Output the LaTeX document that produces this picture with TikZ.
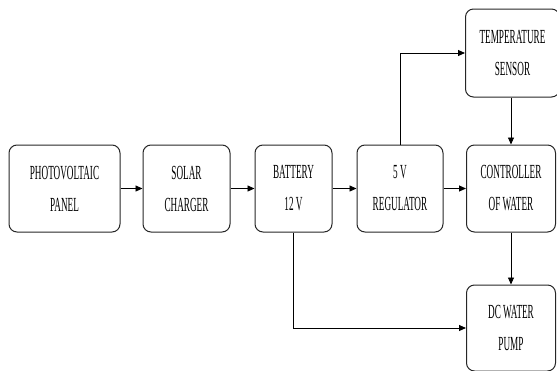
\documentclass[tikz,border=0pt]{standalone}
\usepackage{fontspec}
\usetikzlibrary{arrows.meta}
\newfontfamily\blockfont[FakeStretch=0.46]{Liberation Serif}

\tikzset{
	block/.style={draw=black!85, line width=1pt, rounded corners=8pt, align=center, inner sep=0pt,
		minimum height=87pt, font=\blockfont\fontsize{20}{32}\selectfont},
	flow/.style={draw=black, line width=0.9pt, -{Triangle[length=7pt,width=6pt]}}
}

\begin{document}
\begin{tikzpicture}[x=1pt,y=-1pt]
	% Parameters
	\def\rowy{188.5}
	\def\rightx{511}
	
	\useasboundingbox (0,0) rectangle (557,370);
	
	%blocks
	\node[block, minimum width=111pt] (pv) at (64.5,\rowy) {PHOTOVOLTAIC\\PANEL};
	\node[block, minimum width=87pt] (charger) at (186.5,\rowy) {SOLAR\\CHARGER};
	\node[block, minimum width=77pt] (battery) at (293.5,\rowy) {BATTERY\\12 V};
	\node[block, minimum width=86pt] (regulator) at (400,\rowy) {5 V\\REGULATOR};
	\node[block, minimum width=89pt] (controller) at (\rightx,\rowy) {CONTROLLER\\OF WATER};
	\node[block, minimum width=94pt, minimum height=88pt] (sensor) at (\rightx+1.5,53) {TEMPERATURE\\SENSOR};
	\node[block, minimum width=89pt, minimum height=86pt] (pump) at (\rightx,328) {DC WATER\\PUMP};
	
	%arrows
	\draw[flow] (pv) -- (charger);
	\draw[flow] (charger) -- (battery);
	\draw[flow] (battery) -- (regulator);
	\draw[flow] (regulator) -- (controller);
	\draw[flow] (regulator.north) |- (sensor.west);
	\draw[flow] (sensor.south -| controller.north) -- (controller.north);
	\draw[flow] (controller.south) -- (pump.north);
	\draw[flow] (battery.south) |- (pump.west);
\end{tikzpicture}
\end{document}
